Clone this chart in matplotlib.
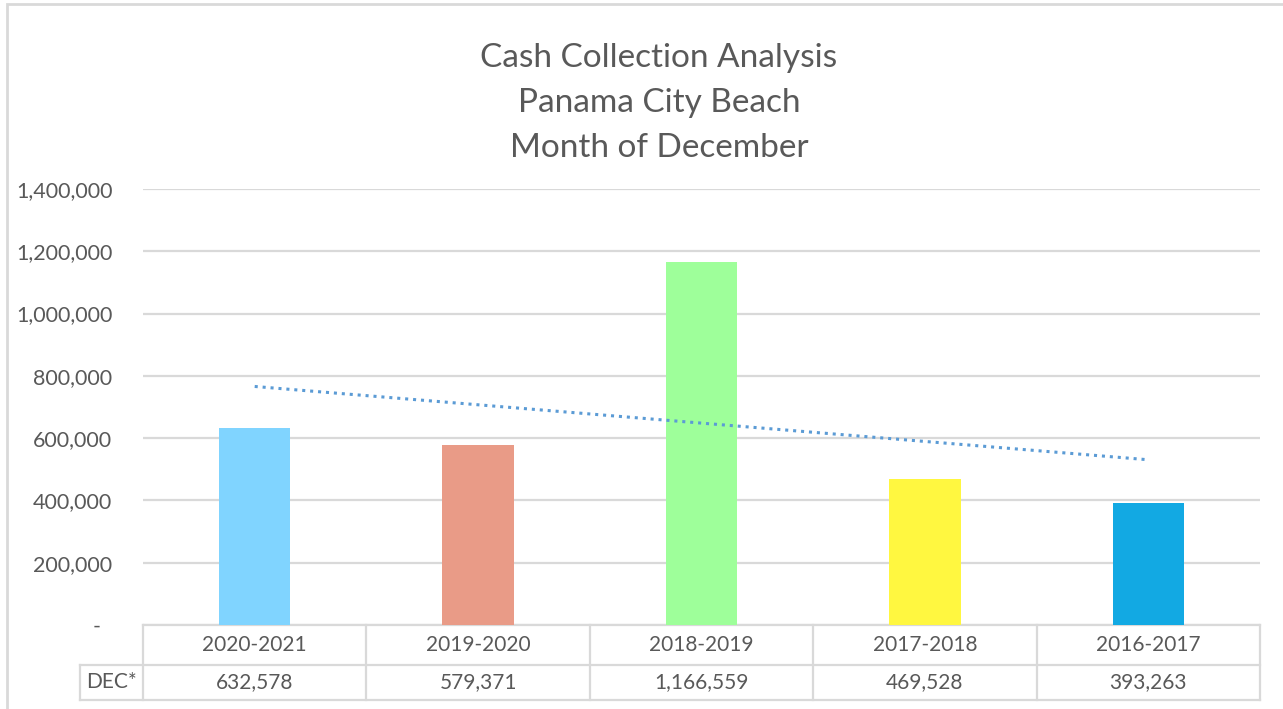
import numpy as np
import matplotlib.pyplot as plt
from matplotlib.lines import Line2D
from matplotlib.patches import Rectangle
from matplotlib.ticker import FuncFormatter

# data
seasons = ['2020-2021', '2019-2020', '2018-2019', '2017-2018', '2016-2017']
dec_values = [632578, 579371, 1166559, 469528, 393263]
bar_colors = ['#80D4FF', '#E99B87', '#9EFF9A', '#FFF740', '#12A9E3']
row_label = 'DEC*'
title_lines = ['Cash Collection Analysis', 'Panama City Beach', 'Month of December']

plt.rcParams['font.family'] = ['Lato', 'DejaVu Sans']
text_gray = '#595959'
grid_gray = '#D9D9D9'

W, H = 1283, 709
fig = plt.figure(figsize=(W / 100, H / 100), dpi=100)

# outer chart border
fig.add_artist(Rectangle((7 / W, -0.01), 1.5, 1 - 4 / H + 0.01, transform=fig.transFigure,
                         fill=False, edgecolor=grid_gray, linewidth=2))

ax_l, ax_r, ax_t, ax_b = 143, 1260, 189, 625
ax = fig.add_axes([ax_l / W, 1 - ax_b / H, (ax_r - ax_l) / W, (ax_b - ax_t) / H])

x = np.arange(len(seasons))
ax.bar(x, dec_values, width=0.32, color=bar_colors, zorder=3)

# linear trendline
slope, intercept = np.polyfit(x, dec_values, 1)
ax.plot(x, slope * x + intercept, linestyle=(0, (1, 1.6)), color='#5B9BD5',
        linewidth=2.2, zorder=4)

ax.set_xlim(-0.5, len(seasons) - 0.5)
ax.set_ylim(0, 1400000)
ax.set_yticks(np.arange(0, 1400001, 200000))
ax.yaxis.set_major_formatter(FuncFormatter(lambda v, p: '-  ' if v == 0 else f'{v:,.0f}'))
ax.tick_params(axis='y', length=0, pad=22, labelsize=15.5, labelcolor=text_gray)
ax.set_xticks([])
ax.grid(axis='y', color=grid_gray, linewidth=1.6, zorder=0)
for s in ['top', 'right', 'left']:
    ax.spines[s].set_visible(False)
ax.spines['bottom'].set_color(grid_gray)
ax.spines['bottom'].set_linewidth(1.6)

# data table below the axes
row1, row2, row3 = 625, 665, 700
tab_left = 80
lw = 1.6

def hline(y, x0, x1):
    fig.add_artist(Line2D([x0 / W, x1 / W], [1 - y / H, 1 - y / H], transform=fig.transFigure,
                          color=grid_gray, linewidth=lw))

def vline(xp, y0, y1):
    fig.add_artist(Line2D([xp / W, xp / W], [1 - y0 / H, 1 - y1 / H], transform=fig.transFigure,
                          color=grid_gray, linewidth=lw))

hline(row2, tab_left, ax_r)
hline(row3, tab_left, ax_r)
vline(tab_left, row2, row3)
cell_w = (ax_r - ax_l) / len(seasons)
for i in range(len(seasons) + 1):
    vline(ax_l + i * cell_w, row1, row3)

for i, (s, v) in enumerate(zip(seasons, dec_values)):
    cx = (ax_l + (i + 0.5) * cell_w) / W
    fig.text(cx, 1 - (row1 + row2) / 2 / H, s, ha='center', va='center',
             fontsize=15, color=text_gray)
    fig.text(cx, 1 - (row2 + row3) / 2 / H, f'{v:,.0f}', ha='center', va='center',
             fontsize=15, color=text_gray)
fig.text((tab_left + ax_l) / 2 / W, 1 - (row2 + row3) / 2 / H, row_label, ha='center',
         va='center', fontsize=15, color=text_gray)

# title
for i, t in enumerate(title_lines):
    fig.text(659 / W, 1 - (58 + i * 45) / H, t, ha='center', va='center',
             fontsize=24, color=text_gray)

fig.savefig('out.png', dpi=100, facecolor='white')
